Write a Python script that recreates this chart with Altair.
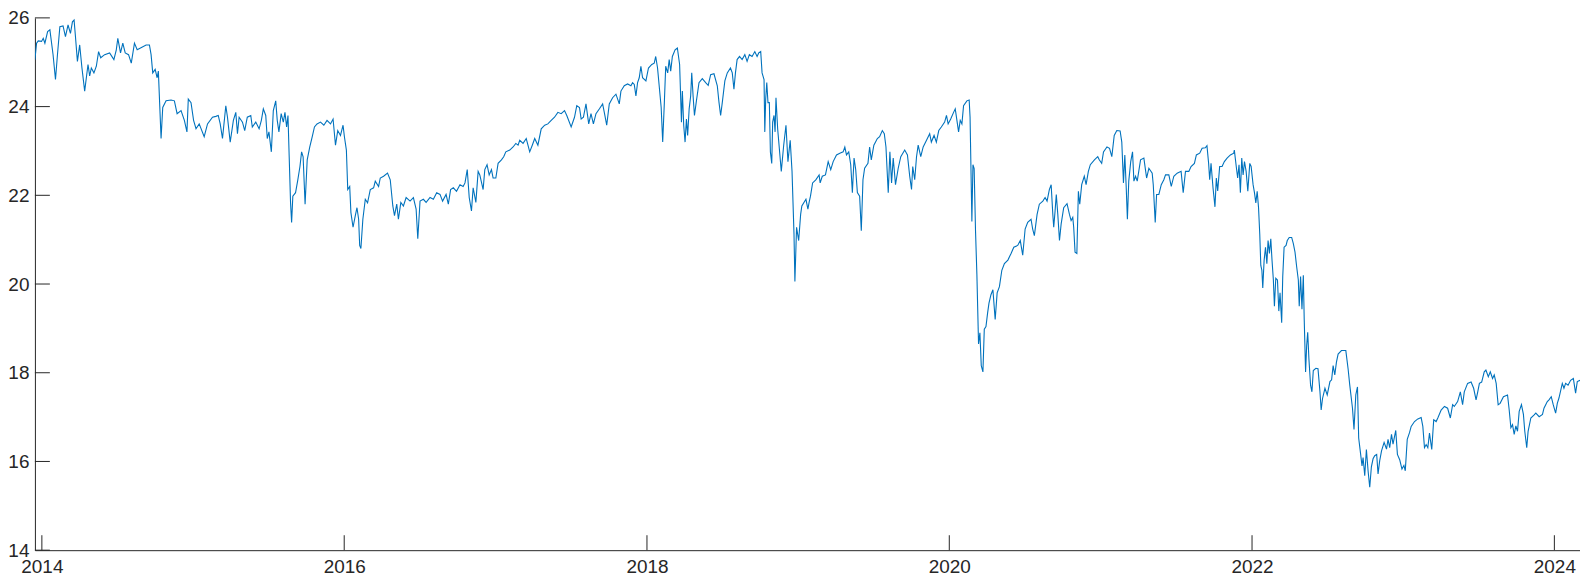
import altair as alt
import numpy as np
import pandas as pd

# ---- data (decimal year, value) ----
years = [
    2013.954, 2013.965, 2013.976, 2013.998, 2014.009, 2014.020, 2014.038, 2014.053, 2014.074, 2014.090,
    2014.103, 2014.119, 2014.140, 2014.156, 2014.173, 2014.189, 2014.202, 2014.213, 2014.222, 2014.235,
    2014.250, 2014.265, 2014.283, 2014.294, 2014.305, 2014.316, 2014.327, 2014.344, 2014.360, 2014.375,
    2014.389, 2014.415, 2014.448, 2014.476, 2014.492, 2014.502, 2014.520, 2014.535, 2014.551, 2014.573,
    2014.591, 2014.612, 2014.630, 2014.652, 2014.689, 2014.711, 2014.722, 2014.733, 2014.749, 2014.762,
    2014.770, 2014.788, 2014.799, 2014.821, 2014.854, 2014.876, 2014.894, 2014.920, 2014.942, 2014.959,
    2014.968, 2014.986, 2015.003, 2015.019, 2015.040, 2015.073, 2015.095, 2015.128, 2015.150, 2015.166,
    2015.179, 2015.194, 2015.216, 2015.227, 2015.245, 2015.266,
    # 2015 - 2016.5
    2015.282, 2015.293, 2015.304, 2015.326, 2015.341, 2015.358, 2015.381, 2015.391, 2015.414, 2015.436,
    2015.451, 2015.464, 2015.480, 2015.490, 2015.501, 2015.517, 2015.530, 2015.546, 2015.556, 2015.567,
    2015.582, 2015.596, 2015.607, 2015.618, 2015.627, 2015.635, 2015.644, 2015.651, 2015.659, 2015.677,
    2015.692, 2015.706, 2015.717, 2015.727, 2015.740, 2015.754, 2015.771, 2015.787, 2015.802, 2015.819,
    2015.842, 2015.864, 2015.885, 2015.908, 2015.925, 2015.941, 2015.956, 2015.974, 2015.991, 2016.000,
    2016.013, 2016.022, 2016.035, 2016.043, 2016.057, 2016.072, 2016.083, 2016.094, 2016.101, 2016.109,
    2016.122, 2016.138, 2016.153, 2016.171, 2016.193, 2016.204, 2016.226, 2016.237, 2016.259, 2016.285,
    2016.303, 2016.320, 2016.331, 2016.346, 2016.357, 2016.373, 2016.390, 2016.408, 2016.434, 2016.456,
    2016.474, 2016.485, 2016.500,
    # 2016.5 - 2017.8
    2016.522, 2016.540, 2016.566, 2016.588, 2016.610, 2016.632, 2016.649, 2016.672, 2016.687, 2016.702,
    2016.720, 2016.741, 2016.764, 2016.785, 2016.797, 2016.812, 2016.825, 2016.840, 2016.851, 2016.869,
    2016.884, 2016.895, 2016.917, 2016.928, 2016.943, 2016.957, 2016.972, 2016.983, 2017.001, 2017.016,
    2017.038, 2017.053, 2017.067, 2017.093, 2017.115, 2017.133, 2017.148, 2017.159, 2017.181, 2017.202,
    2017.225, 2017.242, 2017.258, 2017.279, 2017.301, 2017.324, 2017.345, 2017.367, 2017.389, 2017.411,
    2017.433, 2017.455, 2017.470, 2017.499, 2017.521, 2017.536, 2017.554, 2017.565, 2017.580, 2017.597,
    2017.615, 2017.630, 2017.646, 2017.663, 2017.686, 2017.707, 2017.718, 2017.734, 2017.751, 2017.773,
    # 2017.8 - 2019
    2017.795, 2017.817, 2017.828, 2017.850, 2017.872, 2017.894, 2017.905, 2017.916, 2017.927, 2017.938,
    2017.949, 2017.960, 2017.971, 2017.993, 2018.010, 2018.032, 2018.048, 2018.058, 2018.070, 2018.094,
    2018.104, 2018.115, 2018.124, 2018.137, 2018.147, 2018.157, 2018.168, 2018.186, 2018.201, 2018.216,
    2018.228, 2018.234, 2018.243, 2018.252, 2018.261, 2018.269, 2018.279, 2018.289, 2018.296, 2018.305,
    2018.314, 2018.327, 2018.344, 2018.366, 2018.388, 2018.405, 2018.421, 2018.443, 2018.465, 2018.476,
    2018.487, 2018.498, 2018.515, 2018.531, 2018.552, 2018.564, 2018.575, 2018.585, 2018.596, 2018.612,
    2018.629, 2018.647, 2018.662, 2018.677, 2018.695, 2018.713, 2018.728, 2018.739, 2018.752, 2018.761,
    2018.774, 2018.779, 2018.785, 2018.792, 2018.800, 2018.809, 2018.816, 2018.825, 2018.831, 2018.840,
    2018.847, 2018.853, 2018.864, 2018.875, 2018.888, 2018.904, 2018.919, 2018.932, 2018.947, 2018.959,
    2018.972, 2018.978, 2018.989, 2019.003, 2019.016, 2019.024,
    # 2019 - 2020.4
    2019.051, 2019.064, 2019.072, 2019.081, 2019.095, 2019.116, 2019.138, 2019.145, 2019.159, 2019.180,
    2019.198, 2019.215, 2019.231, 2019.253, 2019.275, 2019.297, 2019.308, 2019.319, 2019.334, 2019.347,
    2019.358, 2019.369, 2019.380, 2019.391, 2019.406, 2019.417, 2019.428, 2019.439, 2019.461, 2019.472,
    2019.483, 2019.500, 2019.523, 2019.538, 2019.556, 2019.569, 2019.580, 2019.595, 2019.606, 2019.617,
    2019.628, 2019.643, 2019.661, 2019.678, 2019.704, 2019.722, 2019.737, 2019.749, 2019.757, 2019.770,
    2019.782, 2019.793, 2019.810, 2019.826, 2019.848, 2019.869, 2019.880, 2019.898, 2019.913, 2019.929,
    2019.946, 2019.968, 2019.980, 2019.991, 2020.008, 2020.027, 2020.038, 2020.049, 2020.060, 2020.071,
    2020.082, 2020.093, 2020.115, 2020.130, 2020.136, 2020.148, 2020.155, 2020.163, 2020.172, 2020.181,
    2020.192, 2020.201, 2020.210, 2020.221, 2020.230, 2020.241, 2020.252, 2020.261, 2020.274, 2020.287,
    2020.302, 2020.315, 2020.330, 2020.346, 2020.363, 2020.386,
    # 2020.4 - 2021.4
    2020.407, 2020.425, 2020.451, 2020.468, 2020.484, 2020.500, 2020.517, 2020.539, 2020.550, 2020.561,
    2020.579, 2020.594, 2020.617, 2020.632, 2020.645, 2020.660, 2020.672, 2020.683, 2020.689, 2020.698,
    2020.706, 2020.716, 2020.727, 2020.738, 2020.755, 2020.777, 2020.793, 2020.804, 2020.815, 2020.821,
    2020.830, 2020.842, 2020.852, 2020.861, 2020.874, 2020.891, 2020.903, 2020.918, 2020.931, 2020.958,
    2020.980, 2020.990, 2021.006, 2021.018, 2021.041, 2021.058, 2021.073, 2021.089, 2021.106, 2021.128,
    2021.139, 2021.150, 2021.159, 2021.168, 2021.176, 2021.185, 2021.198, 2021.210, 2021.219, 2021.230,
    2021.241, 2021.263, 2021.285, 2021.303, 2021.318, 2021.340, 2021.347, 2021.360, 2021.369, 2021.384,
    2021.400,
    # 2021.4 - 2022.7
    2021.417, 2021.428, 2021.450, 2021.466, 2021.483, 2021.505, 2021.531, 2021.545, 2021.560, 2021.582,
    2021.597, 2021.619, 2021.632, 2021.654, 2021.670, 2021.691, 2021.702, 2021.713, 2021.720, 2021.729,
    2021.742, 2021.755, 2021.764, 2021.773, 2021.786, 2021.802, 2021.817, 2021.835, 2021.857, 2021.879,
    2021.883, 2021.897, 2021.905, 2021.914, 2021.923, 2021.932, 2021.941, 2021.950, 2021.961, 2021.972,
    2021.985, 2021.994, 2022.007, 2022.016, 2022.025, 2022.034, 2022.043, 2022.051, 2022.058, 2022.065,
    2022.071, 2022.080, 2022.089, 2022.098, 2022.106, 2022.115, 2022.124, 2022.132, 2022.141, 2022.148,
    2022.157, 2022.168, 2022.177, 2022.185, 2022.196, 2022.203, 2022.212, 2022.225, 2022.233, 2022.246,
    2022.262, 2022.273, 2022.284, 2022.295, 2022.306, 2022.312, 2022.321, 2022.330, 2022.339, 2022.345,
    2022.354, 2022.361, 2022.368, 2022.376, 2022.387, 2022.396, 2022.405, 2022.422, 2022.436, 2022.449,
    2022.457, 2022.466, 2022.482, 2022.497, 2022.515, 2022.526, 2022.536, 2022.547, 2022.558, 2022.569,
    2022.591, 2022.620, 2022.635, 2022.646, 2022.664, 2022.674, 2022.686, 2022.697,
    # 2022.7 - 2024.2
    2022.705, 2022.718, 2022.727, 2022.734, 2022.745, 2022.756, 2022.767, 2022.778, 2022.789, 2022.800,
    2022.811, 2022.824, 2022.833, 2022.844, 2022.856, 2022.873, 2022.889, 2022.899, 2022.910, 2022.922,
    2022.932, 2022.950, 2022.961, 2022.976, 2022.991, 2023.004, 2023.013, 2023.026, 2023.041, 2023.052,
    2023.074, 2023.096, 2023.118, 2023.129, 2023.140, 2023.151, 2023.162, 2023.173, 2023.188, 2023.201,
    2023.217, 2023.228, 2023.250, 2023.272, 2023.293, 2023.311, 2023.326, 2023.337, 2023.359, 2023.377,
    2023.392, 2023.403, 2023.425, 2023.448, 2023.465, 2023.481, 2023.492, 2023.503, 2023.518, 2023.535,
    2023.546, 2023.562, 2023.575, 2023.590, 2023.601, 2023.614, 2023.627, 2023.640, 2023.662, 2023.689,
    2023.700, 2023.711, 2023.722, 2023.733, 2023.744, 2023.755, 2023.766, 2023.781, 2023.794, 2023.803,
    2023.816, 2023.825, 2023.843, 2023.865, 2023.876, 2023.898, 2023.920, 2023.930, 2023.952, 2023.963,
    2023.978, 2023.991, 2024.007, 2024.018, 2024.029, 2024.051, 2024.062, 2024.073, 2024.089, 2024.106,
    2024.124, 2024.139, 2024.150, 2024.168,
]

values = [
    25.06, 25.43, 25.48, 25.47, 25.54, 25.43, 25.69, 25.73, 25.17, 24.61,
    25.17, 25.80, 25.82, 25.58, 25.84, 25.65, 25.91, 25.95, 25.58, 25.02,
    25.39, 24.87, 24.35, 24.65, 24.95, 24.69, 24.87, 24.76, 24.91, 25.24,
    25.10, 25.17, 25.21, 25.06, 25.28, 25.54, 25.21, 25.43, 25.21, 25.17,
    24.98, 25.43, 25.28, 25.32, 25.39, 25.39, 25.17, 24.76, 24.84, 24.65,
    24.80, 23.28, 23.98, 24.13, 24.15, 24.13, 23.84, 23.91, 23.69, 23.43,
    24.17, 24.09, 23.69, 23.50, 23.61, 23.32, 23.61, 23.76, 23.78, 23.80,
    23.61, 23.28, 24.02, 23.76, 23.20, 23.69,
    # 2015 - 2016.5
    23.87, 23.39, 23.76, 23.65, 23.46, 23.76, 23.80, 23.54, 23.65, 23.50,
    23.69, 23.95, 23.80, 23.28, 23.43, 22.98, 23.91, 24.13, 23.69, 23.43,
    23.84, 23.65, 23.87, 23.54, 23.80, 22.87, 21.83, 21.39, 21.98, 22.06,
    22.35, 22.65, 22.98, 22.87, 21.80, 22.80, 23.09, 23.32, 23.54, 23.61,
    23.65, 23.58, 23.69, 23.61, 23.72, 23.13, 23.46, 23.35, 23.58, 23.32,
    23.02, 22.13, 22.20, 21.61, 21.28, 21.54, 21.72, 21.46, 20.87, 20.80,
    21.46, 21.91, 21.83, 22.13, 22.17, 22.32, 22.20, 22.39, 22.43, 22.50,
    22.35, 21.76, 21.54, 21.80, 21.46, 21.84, 21.76, 21.95, 21.87, 21.95,
    21.69, 21.02, 21.87,
    # 2016.5 - 2017.8
    21.91, 21.84, 21.95, 21.91, 22.06, 22.02, 21.87, 22.02, 21.80, 22.13,
    22.17, 22.09, 22.24, 22.20, 22.28, 22.58, 21.95, 21.65, 22.17, 21.84,
    22.54, 22.46, 22.13, 22.58, 22.69, 22.46, 22.58, 22.39, 22.39, 22.72,
    22.80, 22.87, 22.98, 23.02, 23.09, 23.17, 23.13, 23.24, 23.17, 23.28,
    22.98, 23.13, 23.28, 23.13, 23.50, 23.58, 23.61, 23.69, 23.76, 23.87,
    23.84, 23.91, 23.80, 23.54, 23.76, 24.02, 23.98, 23.72, 23.76, 24.06,
    23.61, 23.84, 23.61, 23.84, 23.95, 24.06, 23.87, 23.58, 24.06, 24.20,
    # 2017.8 - 2019
    24.28, 24.06, 24.35, 24.47, 24.51, 24.47, 24.54, 24.50, 24.24, 24.54,
    24.65, 24.91, 24.65, 24.58, 24.87, 24.95, 24.98, 25.13, 24.87, 23.98,
    23.20, 24.09, 24.91, 24.76, 25.06, 24.80, 25.13, 25.28, 25.32, 24.95,
    23.65, 24.35, 23.58, 23.20, 23.72, 23.35, 23.95, 24.24, 24.76, 24.24,
    23.80, 24.13, 24.54, 24.63, 24.54, 24.48, 24.72, 24.74, 24.47, 24.10,
    23.80, 24.09, 24.58, 24.76, 24.87, 24.76, 24.39, 24.76, 25.06, 25.13,
    25.06, 25.17, 25.02, 25.17, 25.13, 25.24, 25.13, 25.21, 25.24, 24.76,
    24.61, 23.43, 24.17, 24.54, 24.09, 24.09, 22.98, 22.72, 23.65, 23.80,
    23.43, 24.20, 23.50, 23.06, 22.54, 23.13, 23.58, 22.76, 23.24, 22.54,
    21.13, 20.06, 21.28, 20.98, 21.57, 21.76,
    # 2019 - 2020.4
    21.91, 21.69, 21.84, 21.98, 22.28, 22.35, 22.46, 22.28, 22.43, 22.46,
    22.76, 22.58, 22.76, 22.91, 22.95, 22.98, 23.09, 22.91, 22.98, 22.69,
    22.06, 22.84, 22.58, 22.06, 21.98, 21.20, 22.35, 22.61, 22.72, 23.09,
    22.80, 23.13, 23.28, 23.32, 23.46, 23.39, 23.09, 22.06, 22.98, 22.28,
    22.84, 22.24, 22.61, 22.87, 23.02, 22.91, 22.43, 22.13, 22.65, 22.35,
    22.87, 23.13, 22.87, 23.09, 23.24, 23.39, 23.20, 23.35, 23.20, 23.46,
    23.54, 23.65, 23.80, 23.61, 23.72, 23.87, 23.95, 23.69, 23.43, 23.69,
    23.61, 24.02, 24.13, 24.15, 23.76, 21.41, 22.69, 22.60, 21.20, 20.22,
    18.65, 18.90, 18.16, 18.02, 18.98, 19.04, 19.35, 19.57, 19.76, 19.87,
    19.20, 19.80, 19.94, 20.31, 20.46, 20.54,
    # 2020.4 - 2021.4
    20.69, 20.83, 20.87, 20.98, 20.65, 21.24, 21.39, 21.46, 21.24, 21.09,
    21.57, 21.80, 21.87, 21.95, 21.87, 22.13, 22.24, 21.57, 21.28, 21.65,
    22.02, 21.57, 20.98, 21.35, 21.72, 21.81, 21.57, 21.43, 21.50, 21.28,
    20.72, 20.69, 22.09, 21.80, 22.24, 22.43, 22.24, 22.54, 22.69, 22.80,
    22.87, 22.80, 22.72, 22.98, 23.09, 23.06, 22.87, 23.35, 23.46, 23.45,
    23.20, 22.28, 22.91, 22.20, 21.46, 22.32, 22.76, 22.98, 22.32, 22.43,
    22.32, 22.80, 22.84, 22.39, 22.61, 22.50, 22.24, 21.39, 22.02, 22.02,
    22.24,
    # 2021.4 - 2022.7
    22.35, 22.46, 22.46, 22.20, 22.43, 22.50, 22.54, 22.06, 22.54, 22.54,
    22.65, 22.72, 22.91, 22.95, 23.06, 23.07, 23.12, 22.72, 22.35, 22.72,
    22.17, 21.74, 22.39, 22.10, 22.65, 22.65, 22.76, 22.84, 22.91, 22.95,
    23.02, 22.61, 22.39, 22.69, 22.06, 22.84, 22.46, 22.76, 22.54, 22.09,
    22.72, 22.65, 22.24, 22.06, 21.83, 22.09, 21.72, 21.13, 20.42, 20.31,
    19.91, 20.54, 20.83, 20.46, 20.98, 20.69, 21.02, 20.54, 20.09, 19.50,
    20.13, 20.09, 19.39, 19.80, 19.13, 20.17, 20.83, 20.87, 20.98, 21.05,
    21.05, 20.91, 20.72, 20.39, 20.09, 19.50, 20.17, 19.43, 20.20, 19.20,
    18.02, 18.61, 18.91, 18.31, 17.72, 17.57, 18.05, 18.10, 18.09, 17.57,
    17.16, 17.42, 17.65, 17.50, 17.80, 17.84, 18.16, 17.95, 18.24, 18.42,
    18.50, 18.50, 18.09, 17.72, 17.20, 16.72, 17.50, 17.68,
    # 2022.7 - 2024.2
    16.53, 16.16, 15.90, 16.09, 15.68, 16.27, 15.79, 15.42, 15.88, 16.06,
    16.13, 16.16, 15.72, 16.02, 16.24, 16.43, 16.28, 16.50, 16.31, 16.61,
    16.39, 16.70, 16.16, 16.04, 15.83, 15.91, 15.79, 16.50, 16.65, 16.79,
    16.90, 16.96, 16.99, 16.79, 16.31, 16.38, 16.31, 16.64, 16.27, 16.94,
    16.90, 16.98, 17.16, 17.24, 17.20, 16.98, 17.28, 17.24, 17.35, 17.57,
    17.28, 17.57, 17.76, 17.79, 17.65, 17.39, 17.57, 17.76, 17.79, 18.02,
    18.06, 17.91, 18.02, 17.87, 17.95, 17.76, 17.28, 17.31, 17.46, 17.50,
    17.16, 16.76, 16.83, 16.61, 16.80, 16.68, 17.13, 17.28, 17.06, 16.68,
    16.31, 16.68, 16.98, 17.05, 17.09, 17.01, 17.06, 17.20, 17.35, 17.39,
    17.46, 17.28, 17.09, 17.31, 17.43, 17.76, 17.65, 17.76, 17.72, 17.83,
    17.87, 17.54, 17.80, 17.83,
]

x_tick_years = [2014, 2016, 2018, 2020, 2022, 2024]
y_ticks = [14, 16, 18, 20, 22, 24, 26]
y_domain = [14, 26]

# ---- build tables ----
n = min(len(years), len(values))
yrs = np.array(years[:n])
dates = pd.Timestamp("2014-01-01") + pd.to_timedelta((yrs - 2014) * 365.25, unit="D")
df = pd.DataFrame({"date": dates.round("h"), "value": values[:n]})

xt = pd.DataFrame({"date": [pd.Timestamp(f"{y}-01-01") for y in x_tick_years]})
yt = pd.DataFrame({"v": y_ticks})

W, H = 1550, 534
TICK = 15
INK = "#262626"
LINE = "#0072BD"

xscale = alt.Scale(nice=False, padding=0)
yscale = alt.Scale(domain=y_domain, nice=False, zero=False)

x_axis = alt.Axis(
    values=[alt.DateTime(year=y, month=1, date=1) for y in x_tick_years],
    format="%Y", title=None, ticks=False, grid=False, labelPadding=7,
    labelFlush=False,
)
y_axis = alt.Axis(values=y_ticks, title=None, ticks=False, grid=False, labelPadding=6)

line = alt.Chart(df).mark_line(color=LINE, strokeWidth=1.1, clip=True).encode(
    x=alt.X("date:T", scale=xscale, axis=x_axis),
    y=alt.Y("value:Q", scale=yscale, axis=y_axis),
)

xticks = alt.Chart(xt).mark_rule(color=INK, strokeWidth=1).encode(
    x=alt.X("date:T", scale=xscale),
    y=alt.value(H),
    y2=alt.value(H - TICK),
)

yticks = alt.Chart(yt).mark_rule(color=INK, strokeWidth=1).encode(
    y=alt.Y("v:Q", scale=yscale),
    x=alt.value(0),
    x2=alt.value(TICK),
)

chart = (
    alt.layer(line, xticks, yticks)
    .properties(
        width=W,
        height=H,
        padding={"left": 27, "top": 9, "right": 0, "bottom": 28},
        autosize=alt.AutoSizeParams(type="none"),
        background="white",
    )
    .configure_view(stroke=None)
    .configure_axis(
        domainColor=INK,
        domainWidth=1,
        labelColor=INK,
        labelFont="Liberation Sans",
        labelFontSize=19,
    )
)

chart.save("out.html", embed_options={"renderer": "svg", "actions": False})
